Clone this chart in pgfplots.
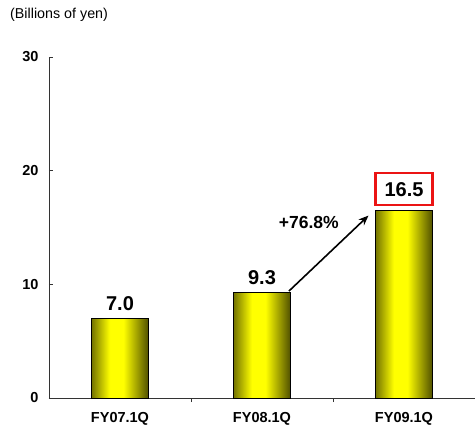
\documentclass[border=0pt]{standalone}
\usepackage{fontspec}
\setmainfont{Liberation Sans}
\usepackage{pgfplots}
\pgfplotsset{compat=1.18}
\usetikzlibrary{arrows.meta}
\definecolor{barL}{RGB}{115,115,0}
\definecolor{barR}{RGB}{80,80,0}
\definecolor{barM}{RGB}{255,255,0}
\definecolor{boxred}{RGB}{235,20,20}
\pgfdeclarehorizontalshading{barshade}{100bp}{color(0bp)=(barL); color(25bp)=(barL); color(41bp)=(barM); color(53bp)=(barM); color(75bp)=(barR); color(100bp)=(barR)}
\begin{document}
\begin{tikzpicture}
\begin{axis}[
  at={(0,0)}, anchor=south west,
  scale only axis, width=426pt, height=341pt,
  xmin=-0.5, xmax=2.5, ymin=0, ymax=30,
  axis x line=bottom, axis y line=left,
  axis line style={-, black!80, line width=0.8pt},
  tick align=inside, major tick length=4pt,
  ytick={0,10,20,30},
  xtick={0.5,1.5}, xticklabels={},
  extra x ticks={0,1,2},
  extra x tick labels={FY07.1Q,FY08.1Q,FY09.1Q},
  extra x tick style={major tick length=0pt},
  tick style={black!80, line width=0.8pt},
  /pgf/number format/assume math mode=true,
  ticklabel style={font=\fontsize{14.5}{17}\selectfont\bfseries},
  yticklabel style={xshift=-7pt},
  xticklabel style={yshift=-11pt},
  ybar, bar width=57pt,
  clip=false,
  barstyle/.style={ybar, bar shift=0pt, draw=black, line width=0.6pt,
    shade, shading=barshade, shading angle=0,
    nodes near coords, point meta=explicit symbolic,
    every node near coord/.append style={font=\fontsize{20}{24}\selectfont\bfseries, yshift=4pt, black}},
]
\addplot[barstyle] coordinates {(0,7.0) [7.0]};
\addplot[barstyle] coordinates {(1,9.3) [9.3]};
\addplot[barstyle,
  every node near coord/.append style={draw=boxred, line width=2.6pt, inner xsep=9pt, minimum height=32pt}]
  coordinates {(2,16.5) [16.5]};
\draw[-{Stealth[length=10pt,width=8pt]}, line width=1.6pt, black] (axis cs:1.19,9.41) -- (axis cs:1.75,16.05);
\node[font=\fontsize{17.5}{20}\selectfont\bfseries] at (axis cs:1.33,15.4) {+76.8\%};
\end{axis}
\node[anchor=west, font=\fontsize{14.3}{17}\selectfont, inner sep=0pt] at (-39pt,383pt) {(Billions of yen)};
\pgfresetboundingbox
\path (-49pt,-31pt) rectangle (426pt,398pt);
\end{tikzpicture}
\end{document}
